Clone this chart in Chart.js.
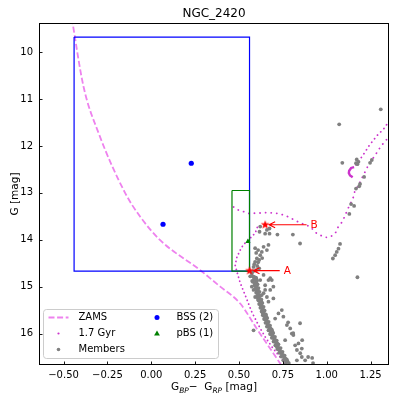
<!DOCTYPE html>
<html>
<head>
<meta charset="utf-8">
<script src="https://cdn.jsdelivr.net/npm/chart.js@4.4.1/dist/chart.umd.min.js"></script>
<style>
  html, body { margin: 0; padding: 0; background: #fff; }
  #wrap { width: 399px; height: 402px; }
</style>
</head>
<body>
<div id="wrap"><canvas id="cmd" width="399" height="402"></canvas></div>
<script>
// axis ranges and ticks
const xRange = [-0.64, 1.355];
const yRange = [9.38, 16.67];
const xTicks = [-0.5, -0.25, 0, 0.25, 0.5, 0.75, 1.0, 1.25];
const yTicks = [10, 11, 12, 13, 14, 15, 16];

// ZAMS (colour, G)
const zamsX = [-0.453, -0.386, -0.300, -0.148, -0.063, 0.051, 0.279, 0.393, 0.507, 0.607, 0.735, 0.752];
const zamsY = [9.28, 10.74, 11.73, 13.01, 13.51, 14.01, 14.65, 15.00, 15.36, 15.93, 16.64, 16.74];

// 1.7 Gyr isochrone, main sequence up to the turn-off
const isoMsX = [0.763, 0.725, 0.687, 0.649, 0.611, 0.573, 0.535, 0.507, 0.488, 0.478, 0.488, 0.507, 0.524, 0.552, 0.592, 0.609];
const isoMsY = [16.63, 16.46, 16.28, 16.07, 15.82, 15.54, 15.18, 14.92, 14.68, 14.54, 14.37, 14.22, 14.11, 14.01, 13.86, 13.69];
// hook, subgiant and red giant branch
const isoRgbX = [0.469, 0.497, 0.526, 0.552, 0.621, 0.668, 0.716, 0.763, 0.848, 0.905, 0.944, 0.991, 1.019, 1.048, 1.065, 1.088, 1.105, 1.122, 1.139, 1.152, 1.162, 1.181, 1.200, 1.219, 1.237, 1.257, 1.276, 1.294, 1.314, 1.333, 1.351, 1.372];
const isoRgbY = [13.30, 13.37, 13.40, 13.44, 13.43, 13.42, 13.44, 13.48, 13.64, 13.72, 13.87, 13.95, 13.94, 13.87, 13.73, 13.62, 13.48, 13.33, 13.20, 13.09, 12.94, 12.84, 12.69, 12.55, 12.41, 12.30, 12.20, 12.09, 11.98, 11.91, 11.81, 11.71];
// asymptotic giant branch down to the clump
const isoAgbX = [1.372, 1.351, 1.333, 1.314, 1.294, 1.276, 1.257, 1.237, 1.219, 1.200, 1.181, 1.162, 1.156];
const isoAgbY = [11.39, 11.49, 11.60, 11.68, 11.75, 11.83, 11.92, 12.02, 12.13, 12.23, 12.34, 12.42, 12.45];
// red clump
const clumpX = [1.156, 1.139, 1.128, 1.126, 1.133, 1.148];
const clumpY = [12.45, 12.47, 12.53, 12.58, 12.63, 12.67];

// cluster members
const memX = [
  1.308, 1.071, 1.089, 1.171, 1.181, 1.175, 1.167, 1.213, 1.190, 1.185, 1.167, 1.156, 1.139, 1.129, 1.247, 1.257,
  1.076, 1.067, 1.057, 1.048, 1.035, 1.175,
  0.848, 0.807, 0.719, 0.674, 0.659, 0.621, 0.617, 0.674, 0.649,
  0.640, 0.668, 0.659, 0.630, 0.621, 0.602, 0.592, 0.609, 0.583, 0.604, 0.573, 0.583, 0.640, 0.678, 0.687, 0.621,
  0.592, 0.573, 0.583, 0.649, 0.630, 0.592, 0.696,
  0.592, 0.609, 0.598, 0.632, 0.615, 0.587, 0.598, 0.615, 0.581, 0.564, 0.598, 0.575,
  0.668, 0.696, 0.649, 0.678, 0.640, 0.659, 0.668, 0.744, 0.725, 0.753, 0.773, 0.792, 0.801, 0.810, 0.763, 0.820,
  0.839, 0.830, 0.858, 0.849, 0.830, 0.858, 0.877, 0.583, 0.706, 0.848, 0.809, 0.860, 0.894, 0.917, 0.922, 0.780,
  0.578, 0.596, 0.586, 0.603, 0.580, 0.594, 0.606, 0.588, 0.600, 0.611, 0.592, 0.604, 0.617, 0.598, 0.609, 0.622,
  0.604, 0.615, 0.627, 0.610, 0.621, 0.633, 0.615, 0.627, 0.640, 0.622, 0.634, 0.646, 0.629, 0.641, 0.653, 0.636,
  0.648, 0.661, 0.643, 0.656, 0.669, 0.651, 0.664, 0.677, 0.659, 0.672, 0.686, 0.668, 0.681, 0.695, 0.677, 0.691,
  0.705, 0.687, 0.701, 0.715, 0.697, 0.711, 0.725, 0.707, 0.722, 0.737, 0.718, 0.733, 0.748, 0.729, 0.745, 0.760,
  0.741, 0.757, 0.772, 0.753, 0.769, 0.784, 0.765,
  0.588, 0.592, 0.600, 0.595, 0.607, 0.602, 0.614, 0.608, 0.627, 0.622, 0.631, 0.641, 0.636, 0.655, 0.650, 0.660,
  0.670, 0.679, 0.690, 0.684, 0.696, 0.708, 0.718, 0.714, 0.726, 0.739, 0.752, 0.764, 0.776
];
const memY = [
  11.22, 11.54, 12.36, 12.29, 12.34, 12.39, 12.37, 12.66, 12.81, 12.86, 12.91, 13.28, 13.24, 13.45, 12.36, 12.30,
  14.09, 14.19, 14.26, 14.33, 14.40, 14.80,
  14.08, 13.89, 13.89, 13.87, 13.79, 13.72, 13.83, 13.76, 13.87,
  14.15, 14.11, 14.22, 14.26, 14.33, 14.40, 14.47, 14.48, 14.58, 14.56, 14.72, 14.79, 14.75, 14.82, 14.86, 14.86,
  14.93, 15.00, 15.07, 15.07, 15.18, 15.22, 15.25,
  14.18, 14.22, 14.28, 14.39, 14.43, 14.52, 14.65, 14.61, 14.67, 14.78, 14.82, 14.88,
  14.86, 15.00, 14.97, 15.07, 15.14, 15.22, 15.32, 15.50, 15.57, 15.64, 15.82, 15.89, 16.00, 16.03, 16.14, 16.25,
  16.21, 16.35, 16.32, 16.42, 16.57, 16.50, 16.57, 15.93, 15.68, 15.78, 15.99, 16.14, 16.50, 16.52, 16.63, 15.76,
  14.78, 14.81, 14.84, 14.87, 14.90, 14.92, 14.95, 14.97, 15.00, 15.03, 15.05, 15.08, 15.11, 15.13, 15.16, 15.19,
  15.21, 15.24, 15.27, 15.29, 15.32, 15.35, 15.37, 15.40, 15.43, 15.45, 15.48, 15.51, 15.53, 15.56, 15.59, 15.61,
  15.64, 15.67, 15.69, 15.72, 15.75, 15.77, 15.80, 15.83, 15.85, 15.88, 15.91, 15.93, 15.96, 15.99, 16.01, 16.04,
  16.07, 16.09, 16.12, 16.15, 16.17, 16.20, 16.23, 16.25, 16.28, 16.31, 16.33, 16.36, 16.39, 16.41, 16.44, 16.47,
  16.49, 16.52, 16.55, 16.57, 16.60, 16.63, 16.65,
  14.80, 14.86, 14.93, 14.99, 15.06, 15.12, 15.18, 15.25, 15.31, 15.38, 15.44, 15.50, 15.57, 15.63, 15.70, 15.76,
  15.82, 15.89, 15.95, 16.02, 16.08, 16.14, 16.21, 16.27, 16.34, 16.40, 16.46, 16.53, 16.59
];

// blue stragglers and probable blue stragglers
const bssX = [0.228, 0.067];
const bssY = [12.37, 13.67];
const pbsX = [0.551];
const pbsY = [14.04];

// selection boxes: [xmin, xmax, ymin, ymax]
const bssBox = [-0.44, 0.56, 9.68, 14.67];
const pbsBox = [0.46, 0.56, 12.95, 14.67];

// labelled stars
const annLabels = ['A', 'B'];
const annX = [0.560, 0.649];
const annY = [14.66, 13.68];
const annTextX = [0.755, 0.908];

const FONT = "'DejaVu Sans', sans-serif";
const ISO_COLOR = '#cc33cc';

function pts(xs, ys) {
  return xs.map((x, i) => ({ x: x, y: ys[i] }));
}

function boxPts(b) {
  return [
    { x: b[0], y: b[2] }, { x: b[1], y: b[2] }, { x: b[1], y: b[3] },
    { x: b[0], y: b[3] }, { x: b[0], y: b[2] }
  ];
}

function starImage(r, color) {
  const c = document.createElement('canvas');
  c.width = c.height = Math.ceil(2 * r + 2);
  const g = c.getContext('2d');
  const cx = c.width / 2, cy = c.height / 2;
  g.fillStyle = color;
  g.beginPath();
  for (let i = 0; i < 10; i++) {
    const a = -Math.PI / 2 + i * Math.PI / 5;
    const rr = i % 2 ? r * 0.42 : r;
    const px = cx + rr * Math.cos(a), py = cy + rr * Math.sin(a);
    if (i === 0) g.moveTo(px, py); else g.lineTo(px, py);
  }
  g.closePath();
  g.fill();
  return c;
}

const lineSet = (data, color, width, dash, cap, smooth) => ({
  data: data,
  showLine: true,
  borderColor: color,
  borderWidth: width,
  borderDash: dash || [],
  borderCapStyle: cap || 'butt',
  pointRadius: 0,
  fill: false,
  tension: smooth ? 0.4 : 0,
  cubicInterpolationMode: smooth ? 'monotone' : 'default'
});

// frame, ticks, texts, legend and arrows drawn on top of the plot
const decor = {
  id: 'decor',
  afterDatasetsDraw(chart) {
    const ctx = chart.ctx;
    const xs = chart.scales.x, ys = chart.scales.y;
    const a = chart.chartArea;
    ctx.save();

    // arrows and letters
    ctx.strokeStyle = '#ff0000';
    ctx.fillStyle = '#ff0000';
    ctx.lineWidth = 1.2;
    annLabels.forEach((lab, i) => {
      const sx = xs.getPixelForValue(annX[i]);
      const sy = ys.getPixelForValue(annY[i]);
      const tx = xs.getPixelForValue(annTextX[i]);
      const tip = sx + 4;
      ctx.beginPath();
      ctx.moveTo(tx - 4, sy);
      ctx.lineTo(tip, sy);
      ctx.moveTo(tip + 6, sy - 3);
      ctx.lineTo(tip, sy);
      ctx.lineTo(tip + 6, sy + 3);
      ctx.stroke();
      ctx.font = '10.5px ' + FONT;
      ctx.textAlign = 'left';
      ctx.textBaseline = 'middle';
      ctx.fillText(lab, tx, sy + 0.5);
    });

    // legend
    const lx = a.left + 4.5, ly = a.bottom - 55.5, lw = 175, lh = 49;
    ctx.beginPath();
    ctx.roundRect(lx, ly, lw, lh, 3);
    ctx.fillStyle = 'rgba(255,255,255,0.8)';
    ctx.fill();
    ctx.strokeStyle = '#cccccc';
    ctx.lineWidth = 1;
    ctx.stroke();

    const rows = [ly + 8, ly + 24, ly + 40];
    ctx.font = '10px ' + FONT;
    ctx.textBaseline = 'middle';
    ctx.textAlign = 'left';
    // ZAMS
    ctx.strokeStyle = '#ee82ee';
    ctx.lineWidth = 1.8;
    ctx.setLineDash([6, 2.6]);
    ctx.beginPath();
    ctx.moveTo(lx + 5, rows[0]);
    ctx.lineTo(lx + 25, rows[0]);
    ctx.stroke();
    ctx.setLineDash([]);
    // isochrone dot
    ctx.fillStyle = ISO_COLOR;
    ctx.beginPath();
    ctx.arc(lx + 15, rows[1], 1.1, 0, Math.PI * 2);
    ctx.fill();
    // member dot
    ctx.fillStyle = '#808080';
    ctx.beginPath();
    ctx.arc(lx + 15, rows[2], 1.8, 0, Math.PI * 2);
    ctx.fill();
    // BSS dot
    ctx.fillStyle = '#0000ff';
    ctx.beginPath();
    ctx.arc(lx + 113.5, rows[0], 2.5, 0, Math.PI * 2);
    ctx.fill();
    // pBS triangle
    ctx.fillStyle = '#008000';
    ctx.beginPath();
    ctx.moveTo(lx + 113.5, rows[1] - 3);
    ctx.lineTo(lx + 116.4, rows[1] + 2);
    ctx.lineTo(lx + 110.6, rows[1] + 2);
    ctx.closePath();
    ctx.fill();

    ctx.fillStyle = '#000';
    ctx.fillText('ZAMS', lx + 35, rows[0]);
    ctx.fillText('1.7 Gyr', lx + 35, rows[1]);
    ctx.fillText('Members', lx + 35, rows[2]);
    ctx.fillText('BSS (2)', lx + 133, rows[0]);
    ctx.fillText('pBS (1)', lx + 133, rows[1]);

    // frame
    ctx.strokeStyle = '#000';
    ctx.lineWidth = 1;
    ctx.strokeRect(a.left + 0.5, a.top + 0.5, a.right - a.left - 1, a.bottom - a.top - 1);

    // inward ticks on bottom and left
    ctx.lineWidth = 0.9;
    ctx.beginPath();
    xTicks.forEach(v => {
      const px = Math.round(xs.getPixelForValue(v)) + 0.5;
      ctx.moveTo(px, a.bottom);
      ctx.lineTo(px, a.bottom - 3.5);
    });
    yTicks.forEach(v => {
      const py = Math.round(ys.getPixelForValue(v)) + 0.5;
      ctx.moveTo(a.left, py);
      ctx.lineTo(a.left + 3.5, py);
    });
    ctx.stroke();

    // title
    ctx.fillStyle = '#000';
    ctx.textAlign = 'center';
    ctx.textBaseline = 'alphabetic';
    ctx.font = '12px ' + FONT;
    ctx.fillText('NGC_2420', (a.left + a.right) / 2, 17);

    // y label
    ctx.save();
    ctx.translate(17.5, (a.top + a.bottom) / 2);
    ctx.rotate(-Math.PI / 2);
    ctx.font = '10.5px ' + FONT;
    ctx.fillText('G [mag]', 0, 0);
    ctx.restore();

    // x label with subscripts
    const parts = [
      ['G', '10.5px ' + FONT, 0],
      ['BP', 'italic 7.5px ' + FONT, 2.5],
      ['\u2212  G', '10.5px ' + FONT, 0],
      ['RP', 'italic 7.5px ' + FONT, 2.5],
      [' [mag]', '10.5px ' + FONT, 0]
    ];
    let total = 0;
    parts.forEach(p => { ctx.font = p[1]; total += ctx.measureText(p[0]).width; });
    let cx = (a.left + a.right) / 2 - total / 2;
    ctx.textAlign = 'left';
    parts.forEach(p => {
      ctx.font = p[1];
      ctx.fillText(p[0], cx, 390 + p[2]);
      cx += ctx.measureText(p[0]).width;
    });

    ctx.restore();
  }
};

const ctxEl = document.getElementById('cmd');
new Chart(ctxEl, {
  type: 'scatter',
  plugins: [decor],
  data: {
    datasets: [
      {
        data: pts(annX, annY),
        pointStyle: starImage(4.6, '#ff0000'),
        pointRadius: 5
      },
      {
        data: pts(pbsX, pbsY),
        pointStyle: 'triangle',
        pointRadius: 3,
        backgroundColor: '#008000',
        borderColor: '#008000',
        borderWidth: 0
      },
      {
        data: pts(bssX, bssY),
        pointRadius: 2.6,
        backgroundColor: '#0000ff',
        borderWidth: 0
      },
      lineSet(boxPts(pbsBox), '#008000', 1.2),
      lineSet(boxPts(bssBox), '#0000ff', 1.2),
      {
        data: pts(memX, memY),
        pointRadius: 1.9,
        backgroundColor: '#808080',
        borderWidth: 0
      },
      lineSet(pts(clumpX, clumpY), ISO_COLOR, 2.4),
      lineSet(pts(isoAgbX, isoAgbY), ISO_COLOR, 1.8, [0.1, 4.5], 'round'),
      lineSet(pts(isoRgbX, isoRgbY), ISO_COLOR, 1.8, [0.1, 5.5], 'round'),
      lineSet(pts(isoMsX, isoMsY), ISO_COLOR, 1.8, [0.1, 4], 'round'),
      lineSet(pts(zamsX, zamsY), '#ee82ee', 1.8, [6, 2.6], 'butt', true)
    ]
  },
  options: {
    responsive: false,
    devicePixelRatio: 1,
    animation: false,
    events: [],
    layout: { padding: { left: 0, top: 23, right: 10, bottom: 0 } },
    plugins: { legend: { display: false }, tooltip: { enabled: false }, title: { display: false } },
    scales: {
      x: {
        type: 'linear',
        min: xRange[0],
        max: xRange[1],
        afterFit: s => { s.height = 37; },
        afterBuildTicks: s => { s.ticks = xTicks.map(v => ({ value: v })); },
        grid: { display: false, drawTicks: false },
        border: { display: false },
        ticks: {
          padding: 4,
          color: '#000',
          font: { family: FONT, size: 10 },
          callback: v => (v < 0 ? '\u2212' : '') + Math.abs(v).toFixed(2)
        }
      },
      y: {
        type: 'linear',
        reverse: true,
        min: yRange[0],
        max: yRange[1],
        afterFit: s => { s.width = 39; },
        afterBuildTicks: s => { s.ticks = yTicks.map(v => ({ value: v })); },
        grid: { display: false, drawTicks: false },
        border: { display: false },
        ticks: {
          padding: 6,
          color: '#000',
          font: { family: FONT, size: 10 },
          callback: v => String(v)
        }
      }
    }
  }
});
</script>
</body>
</html>
